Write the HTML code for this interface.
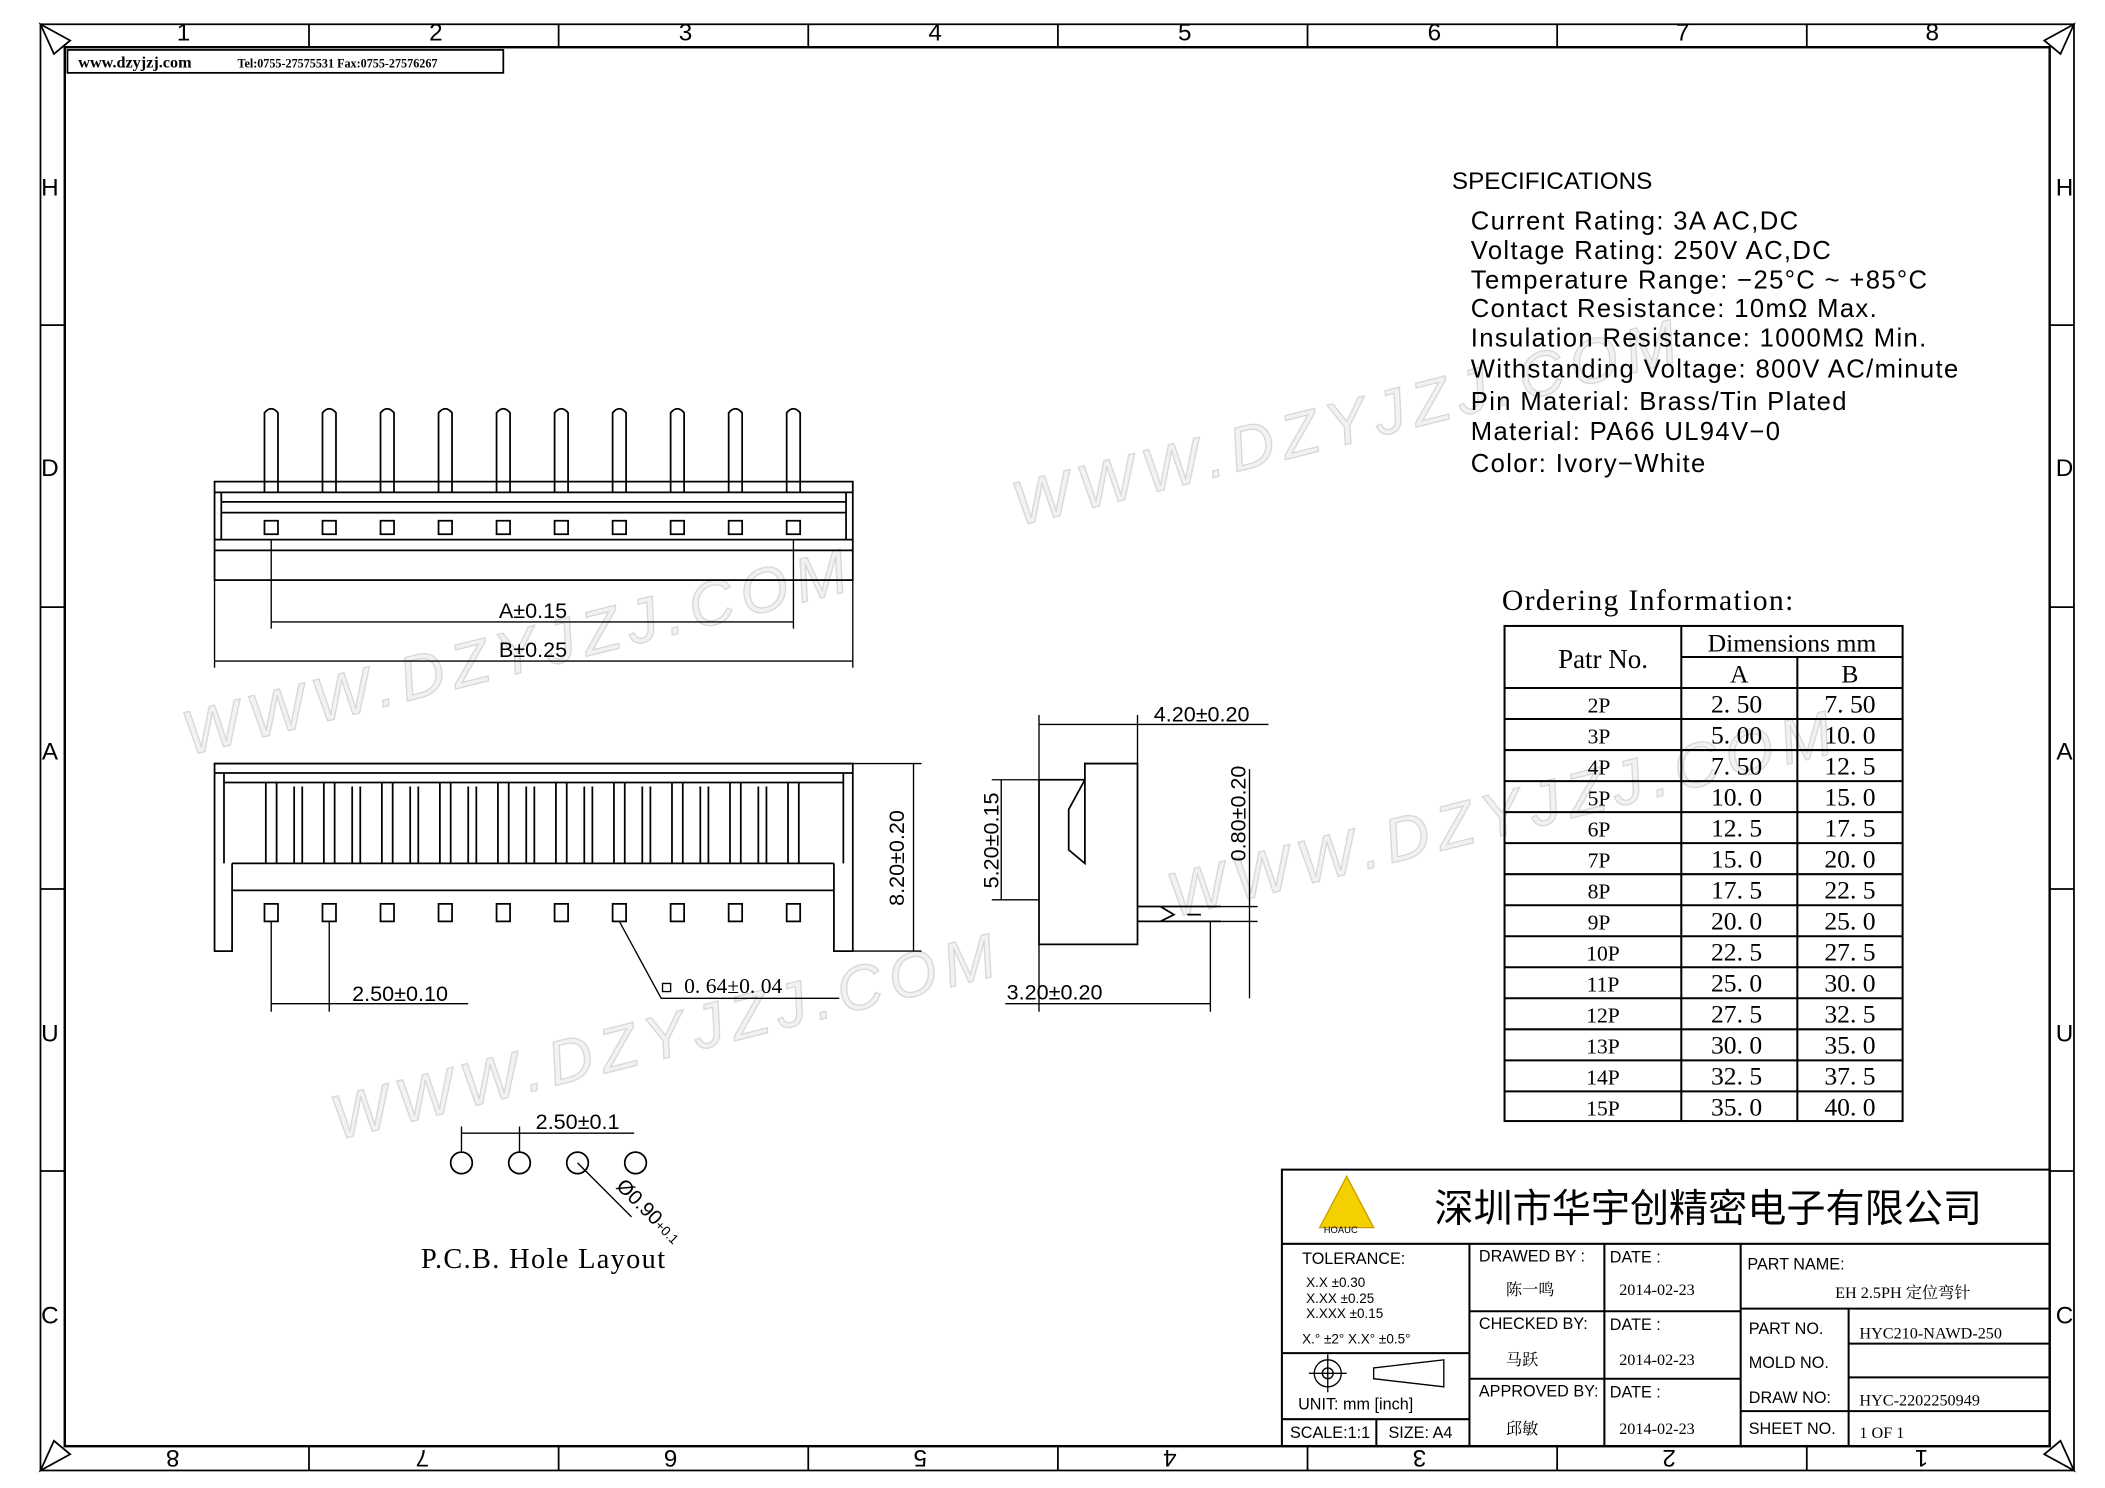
<!DOCTYPE html>
<html><head><meta charset="utf-8"><style>
html,body{margin:0;padding:0;background:#fff;}
svg{display:block}
text{font-family:"Liberation Sans","Noto Sans CJK SC",sans-serif;fill:#000}
.s, .s text{font-family:"Liberation Serif","Noto Serif CJK SC",serif}
.wm text{font-family:"Liberation Sans",sans-serif;font-style:italic;font-size:46px;fill:#f2f2f2;stroke:#d8d8d8;stroke-width:1;letter-spacing:6px}
</style></head><body>
<svg width="2105" height="1488" viewBox="0 0 1560 1103" preserveAspectRatio="none" xmlns="http://www.w3.org/2000/svg">
<g fill="none" stroke="#000" stroke-width="1.3">
<rect x="30" y="18" width="1507" height="1072"/>
<rect x="48" y="35" width="1471" height="1037" stroke-width="1.8"/>
<path d="M229 18V35M414 18V35M599 18V35M784 18V35M969 18V35M1154 18V35M1339 18V35M229 1072V1090M414 1072V1090M599 1072V1090M784 1072V1090M969 1072V1090M1154 1072V1090M1339 1072V1090"/>
<path d="M30 241H48M30 450H48M30 659H48M30 868H48M1519 241H1537M1519 450H1537M1519 659H1537M1519 868H1537"/>
<path d="M30 18L52 30L40 40Z M1537 18L1515 30L1527 40Z M30 1090L52 1078L40 1068Z M1537 1090L1515 1078L1527 1068Z"/>
<rect x="50" y="37" width="323" height="17"/>
</g>
<g font-size="18" text-anchor="middle">
<text x="136" y="30">1</text><text x="323" y="30">2</text><text x="508" y="30">3</text><text x="693" y="30">4</text><text x="878" y="30">5</text><text x="1063" y="30">6</text><text x="1247" y="30">7</text><text x="1432" y="30">8</text>
<g transform="rotate(180 780 1081)"><text x="136" y="1087">1</text><text x="323" y="1087">2</text><text x="508" y="1087">3</text><text x="693" y="1087">4</text><text x="878" y="1087">5</text><text x="1063" y="1087">6</text><text x="1247" y="1087">7</text><text x="1432" y="1087">8</text></g>
<text x="37" y="145">H</text><text x="37" y="353">D</text><text x="37" y="563">A</text><text x="37" y="772">U</text><text x="37" y="981">C</text>
<text x="1530" y="145">H</text><text x="1530" y="353">D</text><text x="1530" y="563">A</text><text x="1530" y="772">U</text><text x="1530" y="981">C</text>
</g>
<text x="58" y="50" class="s" font-size="12" font-weight="bold">www.dzyjzj.com</text>
<text x="176" y="50" class="s" font-size="9" font-weight="bold">Tel:0755-27575531  Fax:0755-27576267</text>

<g class="wm">
<text transform="translate(140,560) rotate(-14)">WWW.DZYJZJ.COM</text>
<text transform="translate(755,390) rotate(-14)">WWW.DZYJZJ.COM</text>
<text transform="translate(250,845) rotate(-14)">WWW.DZYJZJ.COM</text>
<text transform="translate(870,680) rotate(-14)">WWW.DZYJZJ.COM</text>
</g>

<text x="1076" y="140" font-size="18">SPECIFICATIONS</text>
<g font-size="19" letter-spacing="1">
<text x="1090" y="170">Current  Rating:  3A  AC,DC</text>
<text x="1090" y="192">Voltage  Rating:  250V  AC,DC</text>
<text x="1090" y="214">Temperature  Range:  −25°C  ~  +85°C</text>
<text x="1090" y="235">Contact  Resistance:  10mΩ  Max.</text>
<text x="1090" y="257">Insulation  Resistance:  1000MΩ  Min.</text>
<text x="1090" y="280">Withstanding  Voltage:  800V  AC/minute</text>
<text x="1090" y="304">Pin  Material:  Brass/Tin  Plated</text>
<text x="1090" y="326">Material:  PA66  UL94V−0</text>
<text x="1090" y="350">Color:  Ivory−White</text>
</g>

<text x="1113" y="452" class="s" font-size="22" letter-spacing="1">Ordering Information:</text>
<g fill="none" stroke="#000" stroke-width="1.5">
<rect x="1115" y="464" width="295" height="367"/>
<path d="M1246 464V831M1332 487V831M1246 487H1410M1115 510H1410"/>
<path d="M1115 533H1410M1115 556H1410M1115 579H1410M1115 602H1410M1115 625H1410M1115 648H1410M1115 671H1410M1115 694H1410M1115 717H1410M1115 740H1410M1115 763H1410M1115 786H1410M1115 809H1410"/>
</g>
<g class="s" font-size="19" text-anchor="middle">
<text x="1188" y="495" font-size="20">Patr No.</text>
<text x="1328" y="483">Dimensions mm</text>
<text x="1289" y="506">A</text><text x="1371" y="506">B</text>
</g>
<g class="s" font-size="19" text-anchor="middle">
<text x="1185" y="528" font-size="16">2P</text><text x="1287" y="528">2. 50</text><text x="1371" y="528">7. 50</text>
<text x="1185" y="551" font-size="16">3P</text><text x="1287" y="551">5. 00</text><text x="1371" y="551">10. 0</text>
<text x="1185" y="574" font-size="16">4P</text><text x="1287" y="574">7. 50</text><text x="1371" y="574">12. 5</text>
<text x="1185" y="597" font-size="16">5P</text><text x="1287" y="597">10. 0</text><text x="1371" y="597">15. 0</text>
<text x="1185" y="620" font-size="16">6P</text><text x="1287" y="620">12. 5</text><text x="1371" y="620">17. 5</text>
<text x="1185" y="643" font-size="16">7P</text><text x="1287" y="643">15. 0</text><text x="1371" y="643">20. 0</text>
<text x="1185" y="666" font-size="16">8P</text><text x="1287" y="666">17. 5</text><text x="1371" y="666">22. 5</text>
<text x="1185" y="689" font-size="16">9P</text><text x="1287" y="689">20. 0</text><text x="1371" y="689">25. 0</text>
<text x="1188" y="712" font-size="16">10P</text><text x="1287" y="712">22. 5</text><text x="1371" y="712">27. 5</text>
<text x="1188" y="735" font-size="16">11P</text><text x="1287" y="735">25. 0</text><text x="1371" y="735">30. 0</text>
<text x="1188" y="758" font-size="16">12P</text><text x="1287" y="758">27. 5</text><text x="1371" y="758">32. 5</text>
<text x="1188" y="781" font-size="16">13P</text><text x="1287" y="781">30. 0</text><text x="1371" y="781">35. 0</text>
<text x="1188" y="804" font-size="16">14P</text><text x="1287" y="804">32. 5</text><text x="1371" y="804">37. 5</text>
<text x="1188" y="827" font-size="16">15P</text><text x="1287" y="827">35. 0</text><text x="1371" y="827">40. 0</text>
</g>

<g fill="none" stroke="#000" stroke-width="1.3">
<path d="M196 365V306Q201 300 206 306V365"/>
<path d="M239 365V306Q244 300 249 306V365"/>
<path d="M282 365V306Q287 300 292 306V365"/>
<path d="M325 365V306Q330 300 335 306V365"/>
<path d="M368 365V306Q373 300 378 306V365"/>
<path d="M411 365V306Q416 300 421 306V365"/>
<path d="M454 365V306Q459 300 464 306V365"/>
<path d="M497 365V306Q502 300 507 306V365"/>
<path d="M540 365V306Q545 300 550 306V365"/>
<path d="M583 365V306Q588 300 593 306V365"/>
<rect x="159" y="357" width="473" height="73"/>
<path d="M159 365H632M164 372H627M164 380H627M159 400H632M159 408H632M164 365V400M627 365V400"/>
<rect x="196" y="386" width="10" height="10"/><rect x="239" y="386" width="10" height="10"/><rect x="282" y="386" width="10" height="10"/><rect x="325" y="386" width="10" height="10"/><rect x="368" y="386" width="10" height="10"/><rect x="411" y="386" width="10" height="10"/><rect x="454" y="386" width="10" height="10"/><rect x="497" y="386" width="10" height="10"/><rect x="540" y="386" width="10" height="10"/><rect x="583" y="386" width="10" height="10"/>
<path d="M201 400V466M588 400V466M201 461H588M159 430V495M632 430V495M159 490H632" stroke-width="1"/>
</g>
<text x="395" y="458" font-size="16" text-anchor="middle">A±0.15</text>
<text x="395" y="487" font-size="16" text-anchor="middle">B±0.25</text>

<g fill="none" stroke="#000" stroke-width="1.3">
<path d="M159 566H632V705H618V660H172V705H159Z"/>
<path d="M159 573H632M166 580H625M166 573V640M625 573V640M172 640H618M172 660V640M618 660V640"/>
<path d="M197 580V640M205 580V640M218 583V640M224 583V640M240 580V640M248 580V640M261 583V640M267 583V640M283 580V640M291 580V640M304 583V640M310 583V640M326 580V640M334 580V640M347 583V640M353 583V640M369 580V640M377 580V640M390 583V640M396 583V640M412 580V640M420 580V640M433 583V640M439 583V640M455 580V640M463 580V640M476 583V640M482 583V640M498 580V640M506 580V640M519 583V640M525 583V640M541 580V640M549 580V640M562 583V640M568 583V640M584 580V640M592 580V640"/>
<rect x="196" y="670" width="10" height="13"/><rect x="239" y="670" width="10" height="13"/><rect x="282" y="670" width="10" height="13"/><rect x="325" y="670" width="10" height="13"/><rect x="368" y="670" width="10" height="13"/><rect x="411" y="670" width="10" height="13"/><rect x="454" y="670" width="10" height="13"/><rect x="497" y="670" width="10" height="13"/><rect x="540" y="670" width="10" height="13"/><rect x="583" y="670" width="10" height="13"/>
<g stroke-width="1">
<path d="M632 566H683M632 705H683M677 566V705"/>
<path d="M201 683V750M244 683V750M201 744H244M244 744H347"/>
<path d="M459 683L490 740H622"/>
</g>
</g>
<text transform="translate(670,636) rotate(-90)" font-size="16" text-anchor="middle">8.20±0.20</text>
<text x="261" y="742" font-size="16">2.50±0.10</text>
<rect x="491" y="729" width="6" height="6" fill="none" stroke="#000"/>
<text x="507" y="736" class="s" font-size="16">0. 64±0. 04</text>

<g fill="none" stroke="#000" stroke-width="1.3">
<path d="M770 578H804V566H843V700H770Z"/>
<path d="M804 578L792 600V630L804 640V578M843 672H905M843 683H905M860 672L870 678L860 683M880 678H890"/>
<g stroke-width="1">
<path d="M770 530V578M843 530V566M770 537H850M850 537H940"/>
<path d="M770 578H735M770 667H735M742 578V667"/>
<path d="M905 672H932M905 683H932M926 570V740"/>
<path d="M770 700V750M897 683V750M770 744H897M745 744H838"/>
</g>
</g>
<text x="855" y="535" font-size="16">4.20±0.20</text>
<text transform="translate(740,623) rotate(-90)" font-size="16" text-anchor="middle">5.20±0.15</text>
<text transform="translate(923,603) rotate(-90)" font-size="16" text-anchor="middle">0.80±0.20</text>
<text x="746" y="741" font-size="16">3.20±0.20</text>

<g fill="none" stroke="#000" stroke-width="1.3">
<circle cx="342" cy="862" r="8"/><circle cx="385" cy="862" r="8"/><circle cx="428" cy="862" r="8"/><circle cx="471" cy="862" r="8"/>
<path d="M342 835V854M385 835V854M342 840H470M428 862L468 902" stroke-width="1"/>
</g>
<text x="397" y="837" font-size="16">2.50±0.1</text>
<text transform="translate(456,880) rotate(45)" font-size="15">Ø0.90<tspan font-size="10">+0.1</tspan></text>
<text x="312" y="940" class="s" font-size="21" letter-spacing="1">P.C.B.  Hole Layout</text>

<g fill="none" stroke="#000" stroke-width="1.5">
<rect x="950" y="867" width="569" height="205"/>
<path d="M950 922H1519M1089 922V1072M1189 922V1072M1290 922V1072M1370 970V1072M1089 972H1290M1089 1022H1290M1290 970H1519M1370 996H1519M1370 1021H1519M1290 1046H1519M950 1003H1089M950 1052H1089M1020 1052V1072"/>
</g>
<path d="M978 910L998 872L1018 910Z" fill="#f5d000" stroke="#caa000"/>
<text x="981" y="914" font-size="7">HOAUC</text>
<text x="1063" y="906" font-size="29" font-family="Noto Sans CJK SC,sans-serif">深圳市华宇创精密电子有限公司</text>
<g font-size="12">
<text x="965" y="937">TOLERANCE:</text>
<text x="968" y="954" font-size="10">X.X     ±0.30</text>
<text x="968" y="966" font-size="10">X.XX    ±0.25</text>
<text x="968" y="977" font-size="10">X.XXX  ±0.15</text>
<text x="965" y="996" font-size="10">X.° ±2°        X.X° ±0.5°</text>
<text x="962" y="1045">UNIT:  mm  [inch]</text>
<text x="956" y="1066">SCALE:1:1</text><text x="1029" y="1066">SIZE:  A4</text>
<text x="1096" y="935">DRAWED BY :</text><text x="1193" y="936">DATE :</text>
<text x="1096" y="985">CHECKED BY:</text><text x="1193" y="986">DATE :</text>
<text x="1096" y="1035">APPROVED BY:</text><text x="1193" y="1036">DATE :</text>
<text x="1295" y="941">PART NAME:</text>
<text x="1296" y="989">PART NO.</text><text x="1296" y="1014">MOLD NO.</text>
<text x="1296" y="1040">DRAW NO:</text><text x="1296" y="1063">SHEET NO.</text>
</g>
<g class="s" font-size="12">
<text x="1116" y="960">陈一鸣</text><text x="1200" y="960">2014-02-23</text>
<text x="1116" y="1012">马跃</text><text x="1200" y="1012">2014-02-23</text>
<text x="1116" y="1063">邱敏</text><text x="1200" y="1063">2014-02-23</text>
<text x="1360" y="962">EH 2.5PH 定位弯针</text>
<text x="1378" y="992">HYC210-NAWD-250</text>
<text x="1378" y="1042">HYC-2202250949</text>
<text x="1378" y="1066">1  OF  1</text>
</g>
<g fill="none" stroke="#000">
<circle cx="984" cy="1018" r="10"/><circle cx="984" cy="1018" r="4"/><path d="M970 1018H998M984 1004V1032"/>
<path d="M1018 1014L1070 1008V1028L1018 1022Z"/>
</g>
</svg>
</body></html>
